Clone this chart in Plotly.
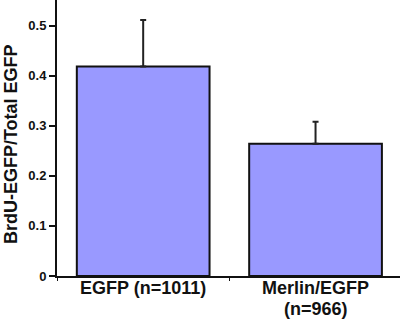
import plotly.graph_objects as go

categories = ["EGFP (n=1011)", "Merlin/EGFP<br>(n=966)"]
values = [0.418, 0.264]
errors = [0.093, 0.044]
y_ticks = [0, 0.1, 0.2, 0.3, 0.4, 0.5]
y_tick_labels = ["0", "0.1", "0.2", "0.3", "0.4", "0.5"]
y_title = "BrdU-EGFP/Total EGFP"

FONT = "Arial, Liberation Sans"
INK = "#111111"

fig = go.Figure()
fig.add_trace(go.Bar(
    x=categories, y=values,
    width=0.77,
    marker=dict(color="#9999ff", line=dict(color=INK, width=2)),
    error_y=dict(type="data", array=errors, symmetric=False, arrayminus=[0, 0],
                 color="#222222", thickness=2, width=3),
))

annotations = []
for c in categories:
    for i, line in enumerate(c.split("<br>")):
        annotations.append(dict(
            x=c, xref="x", y=0, yref="paper", yanchor="middle",
            yshift=-12 - 21 * i,
            text="<b>" + line + "</b>", showarrow=False,
            font=dict(size=18, family=FONT, color=INK),
        ))
annotations.append(dict(
    x=-0.134, xref="paper", y=0.478, yref="paper",
    xanchor="center", yanchor="middle", textangle=-90,
    text="<b>" + y_title + "</b>", showarrow=False,
    font=dict(size=18, family=FONT, color=INK),
))

fig.update_layout(
    width=400, height=323,
    margin=dict(l=57, r=0, t=0, b=47),
    paper_bgcolor="white", plot_bgcolor="white",
    showlegend=False,
    font=dict(family=FONT, color=INK),
    annotations=annotations,
    xaxis=dict(
        range=[-0.5, 1.49],
        showline=True, linecolor=INK, linewidth=2,
        ticks="outside", tickson="boundaries", ticklen=3, tickwidth=1, tickcolor=INK,
        showticklabels=False,
    ),
    yaxis=dict(
        range=[0, 0.551],
        tickvals=y_ticks, ticktext=y_tick_labels,
        showline=True, linecolor=INK, linewidth=2,
        ticks="outside", ticklen=6, tickwidth=2, tickcolor=INK,
        showgrid=False, zeroline=False,
        tickfont=dict(size=13, family=FONT, weight="bold", color=INK),
    ),
)
fig.write_html("out.html")
